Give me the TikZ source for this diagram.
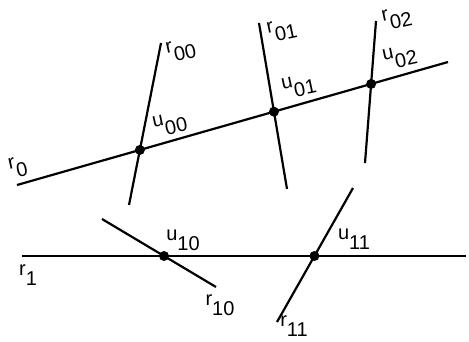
\documentclass[tikz,border=0pt]{standalone}
\usepackage{fontspec}
\setmainfont{Liberation Sans}
\newcommand\mylbl[2]{#1\raisebox{-0.5em}{#2}}
\begin{document}
\begin{tikzpicture}[x=1pt,y=-1pt,
  ln/.style={line width=2.2pt},
  dot/.style={circle,fill=black,inner sep=0pt,minimum size=10pt},
  lab/.style={font=\fontsize{20}{20}\selectfont,inner sep=0pt},
  tlab/.style={lab,rotate=12}]
\useasboundingbox (0,0) rectangle (469,341);
% endpoints
\coordinate (r0a) at (17,185);
\coordinate (r0b) at (448,62);
\coordinate (r00a) at (161,43);
\coordinate (r00b) at (129,205);
\coordinate (r01a) at (259,23);
\coordinate (r01b) at (287,189);
\coordinate (r02a) at (376,21);
\coordinate (r02b) at (365,163);
\coordinate (r1a) at (22,256);
\coordinate (r1b) at (466,256);
\coordinate (r10a) at (102,219);
\coordinate (r10b) at (216,287);
\coordinate (r11a) at (353,188);
\coordinate (r11b) at (277,322);
% lines
\draw[ln] (r0a) -- (r0b);
\draw[ln] (r00a) -- (r00b);
\draw[ln] (r01a) -- (r01b);
\draw[ln] (r02a) -- (r02b);
\draw[ln] (r1a) -- (r1b);
\draw[ln] (r10a) -- (r10b);
\draw[ln] (r11a) -- (r11b);
% intersection dots
\node[dot] (u00) at (intersection of r0a--r0b and r00a--r00b) {};
\node[dot] (u01) at (intersection of r0a--r0b and r01a--r01b) {};
\node[dot] (u02) at (intersection of r0a--r0b and r02a--r02b) {};
\node[dot] (u10) at (intersection of r1a--r1b and r10a--r10b) {};
\node[dot] (u11) at (intersection of r1a--r1b and r11a--r11b) {};
% labels
\node[tlab] (l-r0) at (18,167) {\mylbl{r}{0}};
\node[tlab] (l-r00) at (181,50) {\mylbl{r}{00}};
\node[tlab] (l-u00) at (170,124) {\mylbl{u}{00}};
\node[tlab] (l-r01) at (282,30) {\mylbl{r}{01}};
\node[tlab] (l-u01) at (299,86) {\mylbl{u}{01}};
\node[tlab] (l-r02) at (397,18) {\mylbl{r}{02}};
\node[tlab] (l-u02) at (400,57) {\mylbl{u}{02}};
\node[lab] (l-r1) at (28,275) {\mylbl{r}{1}};
\node[lab] (l-u10) at (183,240) {\mylbl{u}{10}};
\node[lab] (l-r10) at (220,305) {\mylbl{r}{10}};
\node[lab] (l-u11) at (354,239) {\mylbl{u}{11}};
\node[lab] (l-r11) at (294,326) {\mylbl{r}{11}};
\end{tikzpicture}
\end{document}
